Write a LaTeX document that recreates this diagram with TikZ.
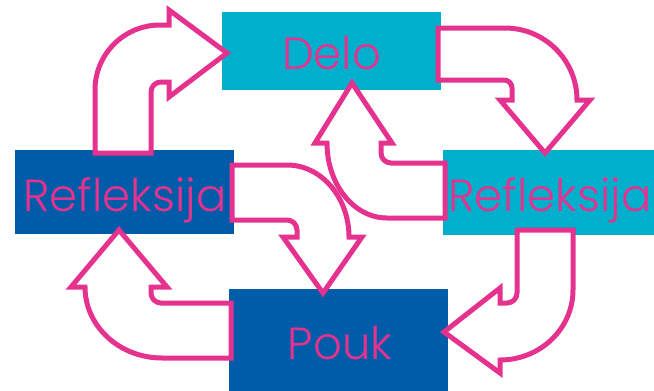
\documentclass[tikz,border=0pt]{standalone}
\usepackage{fontspec}
\IfFontExistsTF{Poppins Light}{\setmainfont{Poppins Light}}{\setmainfont{Poppins}}
\definecolor{boxcyan}{RGB}{0,175,204}
\definecolor{boxblue}{RGB}{0,91,169}
\definecolor{pink}{RGB}{229,50,143}
\begin{document}
\begin{tikzpicture}[x=1pt,y=-1pt,
  box/.style={draw=none,minimum width=219pt,inner sep=0pt,outer sep=0pt},
  lbl/.style={text=pink,anchor=base,inner sep=0pt,font=\fontsize{45}{45}\selectfont},
  blockarrow/.style={draw=pink,fill=white,line width=5pt,line join=miter}]
\useasboundingbox (0,0) rectangle (654,391);
% boxes
\node[box,fill=boxcyan,minimum height=78pt] (delo) at (331.5,51) {};
\node[box,fill=boxblue,minimum height=84pt] (refl) at (124.5,192) {};
\node[box,fill=boxcyan,minimum height=85pt] (refr) at (552.5,192.5) {};
\node[box,fill=boxblue,minimum height=106pt,minimum width=219pt] (pouk) at (338.5,342) {};
% arrow 1: left Refleksija -> Delo
\draw[blockarrow] (95,153) -- (95,90) arc[start angle=180,end angle=270,radius=65]
  -- (169,25) -- (169,10) -- (227,53) -- (169,97) -- (169,82) -- (161,82)
  arc[start angle=270,end angle=180,radius=10] -- (151,153) -- cycle;
% arrow 2: Delo -> right Refleksija
\draw[blockarrow] (438,28) -- (505,28) arc[start angle=270,end angle=360,radius=72]
  -- (590,100) -- (545,153) -- (500,100) -- (512,100) -- (512,88)
  arc[start angle=0,end angle=-90,radius=8] -- (438,80) -- cycle;
% arrow 3: left Refleksija -> Pouk
\draw[blockarrow] (232,165) -- (287,165) arc[start angle=270,end angle=360,x radius=62,y radius=72]
  -- (362,237) -- (323,293) -- (283,237) -- (297,237) -- (297,230)
  arc[start angle=0,end angle=-90,radius=10] -- (232,220) -- cycle;
% arrow 4: right Refleksija -> Delo
\draw[blockarrow] (445,163) -- (391,163) arc[start angle=90,end angle=180,radius=10]
  -- (381,143) -- (392,143) -- (352,83) -- (315,143) -- (327,143)
  arc[start angle=180,end angle=90,x radius=60,y radius=75] -- (445,218) -- cycle;
% arrow 5: Pouk -> left Refleksija
\draw[blockarrow] (231,303) -- (161,303) arc[start angle=90,end angle=180,radius=10]
  -- (151,287) -- (167,287) -- (119,230) -- (71,287) -- (85,287)
  arc[start angle=180,end angle=90,x radius=77,y radius=71] -- (231,358) -- cycle;
% arrow 6: right Refleksija -> Pouk
\draw[blockarrow] (517,230) -- (573,230) -- (573,290)
  arc[start angle=0,end angle=90,x radius=73,y radius=70]
  -- (500,373) -- (444,332) -- (500,288) -- (500,303) -- (507,303)
  arc[start angle=90,end angle=0,radius=10] -- cycle;
% labels
\node[lbl] (tdelo) at (331.5,69) {Delo};
\node[lbl] (trefl) at (125,211) {Refleksija};
\node[lbl] (trefr) at (550,211) {Refleksija};
\node[lbl] (tpouk) at (340,359) {Pouk};
\end{tikzpicture}
\end{document}
